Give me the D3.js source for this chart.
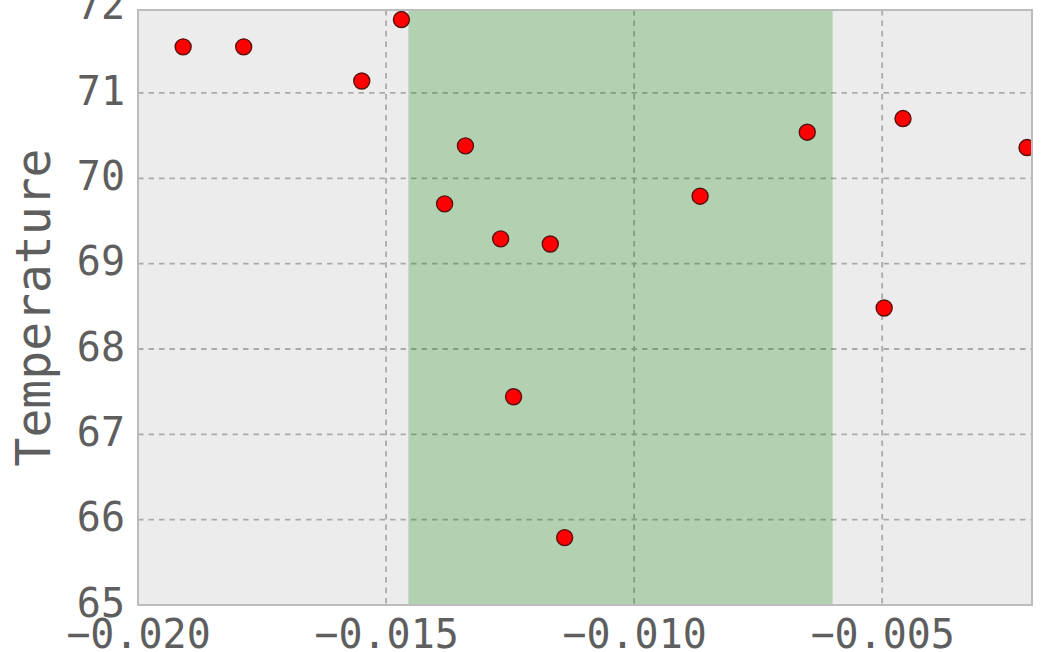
<!DOCTYPE html>
<html>
<head>
<meta charset="utf-8">
<script src="https://cdn.jsdelivr.net/npm/d3@7"></script>
<style>
  html, body { margin: 0; padding: 0; background: #fff; }
  svg { display: block; }
  text { font-family: "DejaVu Sans Mono", monospace; fill: #5e5e5e; }
</style>
</head>
<body>
<svg id="chart" width="1044" height="652"></svg>
<script>
// ---- data ----
const xValues = [-0.01909, -0.01787, -0.01549, -0.01469, -0.01340, -0.01382, -0.01269, -0.01169, -0.01243, -0.01140, -0.00867, -0.00651, -0.00496, -0.00458, -0.00208];
const yValues = [71.54, 71.54, 71.14, 71.86, 70.38, 69.70, 69.29, 69.23, 67.44, 65.79, 69.79, 70.54, 68.48, 70.70, 70.36];
const spanRange = [-0.01455, -0.0060];
const xTicks = [-0.020, -0.015, -0.010, -0.005];
const yTicks = [65, 66, 67, 68, 69, 70, 71, 72];
const yLabel = "Temperature";

// ---- layout ----
const pL = 138, pR = 1032, pT = 10, pB = 605;
const svg = d3.select("#chart");

const x = d3.scaleLinear().domain([-0.020, -0.00198]).range([pL, pR]);
const y = d3.scaleLinear().domain([65, 71.972]).range([pB, pT]);

svg.append("defs").append("clipPath").attr("id", "clip")
  .append("rect").attr("x", pL).attr("y", pT)
  .attr("width", pR - pL).attr("height", pB - pT);

// background
svg.append("rect").attr("x", pL).attr("y", pT)
  .attr("width", pR - pL).attr("height", pB - pT)
  .attr("fill", "#ececec");

// gridlines
const grid = svg.append("g").attr("clip-path", "url(#clip)");
grid.selectAll("line.gy").data(yTicks.filter(v => y(v) > pT + 1 && y(v) < pB - 1))
  .enter().append("line")
  .attr("x1", pL).attr("x2", pR)
  .attr("y1", d => y(d)).attr("y2", d => y(d))
  .attr("stroke", "#aaaaaa").attr("stroke-width", 1.8)
  .attr("stroke-dasharray", "5.5,5");
grid.selectAll("line.gx").data(xTicks.filter(v => x(v) > pL + 1 && x(v) < pR - 1))
  .enter().append("line")
  .attr("x1", d => x(d)).attr("x2", d => x(d))
  .attr("y1", pT).attr("y2", pB)
  .attr("stroke", "#aaaaaa").attr("stroke-width", 1.8)
  .attr("stroke-dasharray", "5.5,5");

// green span
svg.append("rect")
  .attr("x", x(spanRange[0])).attr("y", pT)
  .attr("width", x(spanRange[1]) - x(spanRange[0]))
  .attr("height", pB - pT)
  .attr("fill", "green").attr("fill-opacity", 0.25);

// points
const pts = xValues.map((v, i) => ({ x: v, y: yValues[i] }));
svg.append("g").attr("clip-path", "url(#clip)")
  .selectAll("circle").data(pts).enter().append("circle")
  .attr("cx", d => x(d.x)).attr("cy", d => y(d.y))
  .attr("r", 8)
  .attr("fill", "#ff0000")
  .attr("stroke", "#5a1010").attr("stroke-width", 1.4);

// frame
svg.append("rect").attr("x", pL).attr("y", pT)
  .attr("width", pR - pL).attr("height", pB - pT)
  .attr("fill", "none").attr("stroke", "#bcbcbc").attr("stroke-width", 2);

// axes (labels only, via d3 axis)
const fmtX = d => d3.format(".3f")(d).replace("-", "\u2212");
const xAxis = svg.append("g").attr("transform", `translate(0,${pB})`)
  .call(d3.axisBottom(x).tickValues(xTicks).tickFormat(fmtX).tickSize(0).tickPadding(0));
xAxis.select(".domain").remove();
xAxis.selectAll("text")
  .attr("y", 43).attr("dy", null)
  .style("font-size", "40px").style("fill", "#5e5e5e")
  .style("font-family", "'DejaVu Sans Mono', monospace");

const yAxis = svg.append("g").attr("transform", `translate(${pL},0)`)
  .call(d3.axisLeft(y).tickValues(yTicks).tickFormat(d3.format("d")).tickSize(0).tickPadding(0));
yAxis.select(".domain").remove();
yAxis.selectAll("text")
  .attr("x", -13).attr("dy", "0.28em")
  .style("font-size", "40px").style("fill", "#5e5e5e")
  .style("font-family", "'DejaVu Sans Mono', monospace");

// y label
svg.append("text")
  .attr("transform", `translate(50,${(145 + 470) / 2}) rotate(-90)`)
  .attr("text-anchor", "middle")
  .style("font-size", "48px")
  .text(yLabel);
</script>
</body>
</html>
